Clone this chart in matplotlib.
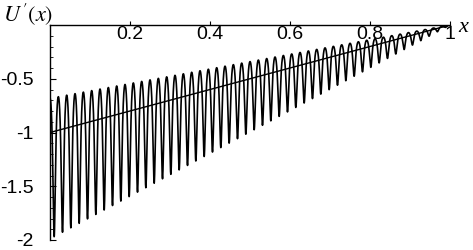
import numpy as np
import matplotlib
matplotlib.use('Agg')
import matplotlib.pyplot as plt
from matplotlib.ticker import MultipleLocator

# data
x_ticks = [0.2, 0.4, 0.6, 0.8, 1.0]
x_tick_labels = ['0.2', '0.4', '0.6', '0.8', '1']
y_ticks = [-0.5, -1.0, -1.5, -2.0]
y_tick_labels = ['-0.5', '-1', '-1.5', '-2']

# straight reference line
line_x = [0.0, 1.0]
line_y = [-1.0, 0.0]

# oscillating curve: about 48 periods on [0, 1], peaks at -0.68(1-x), troughs at -2(1-x)
N_OSC = 48
ECC = 0.49
SCALE = 1.015
x = np.linspace(0, 1, 6000)
u = -SCALE * (1 - x) / (1 + ECC * np.cos(2 * np.pi * N_OSC * x))

fig = plt.figure(figsize=(4.73, 2.5), dpi=100)
ax = fig.add_axes([50 / 473, 10 / 250, 400 / 473, 215 / 250])

ax.plot(x, u, color='black', lw=1.2)
ax.plot(line_x, line_y, color='black', lw=1.0)

ax.set_xlim(0, 1.0)
ax.set_ylim(-2.0, 0)

# mathematica style axes
ax.spines['top'].set_visible(False)
ax.spines['right'].set_visible(False)
ax.spines['bottom'].set_position(('data', 0))
ax.spines['left'].set_position(('data', 0))
ax.spines['bottom'].set_bounds(0, 1.0)
for s in ['bottom', 'left']:
    ax.spines[s].set_linewidth(1.0)

ax.set_xticks(x_ticks)
ax.set_xticklabels(x_tick_labels, fontfamily='Liberation Sans', fontsize=14)
ax.tick_params(axis='x', direction='in', length=3, width=0.8, pad=1)

ax.set_yticks(y_ticks)
ax.set_yticklabels(y_tick_labels, fontfamily='Liberation Sans', fontsize=14)
ax.yaxis.set_minor_locator(MultipleLocator(0.1))
ax.tick_params(axis='y', which='major', direction='in', length=4, width=0.8, pad=12)
ax.tick_params(axis='y', which='minor', direction='in', length=2, width=0.6)

# axis labels
fig.text(3 / 473, 1 - 21 / 250, r"$U\,'(x)$", fontsize=16, family='Liberation Serif',
         style='italic', math_fontfamily='stix')
fig.text(458 / 473, 1 - 32 / 250, 'x', fontsize=16, family='Liberation Serif', style='italic')

plt.savefig('out.png', dpi=100)
